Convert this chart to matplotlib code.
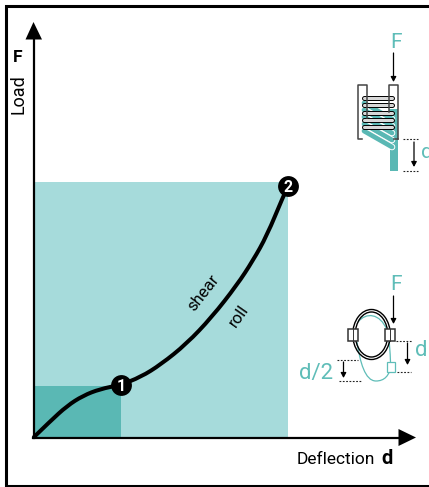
"""Load-deflection curve of a wire rope isolator, with the two spring sketches."""
import matplotlib
matplotlib.use("Agg")
import matplotlib.pyplot as plt
from matplotlib.patches import Rectangle, Ellipse, Polygon, PathPatch
from matplotlib.path import Path

# curve, point 2 = (1, 1)
deflection = [0.0, 0.063, 0.130, 0.193, 0.260, 0.339, 0.420, 0.500, 0.600, 0.700, 0.799, 0.862, 0.917, 0.980, 1.0]
load = [0.0, 0.061, 0.122, 0.162, 0.188, 0.204, 0.235, 0.285, 0.365, 0.470, 0.596, 0.692, 0.790, 0.941, 0.984]
point_d = [0.343, 1.0]
point_f = [0.204, 0.984]
point_labels = ["1", "2"]
elastic_box = (0.343, 0.2)
full_box = (1.0, 1.0)

W, H = 429, 487
LIGHT = "#a6dbdb"
DARK = "#5ab8b4"
TEAL = "#5fbdb8"
NARROW = ["Roboto", "DejaVu Sans"]

fig = plt.figure(figsize=(W / 100, H / 100), dpi=100)

# pixel overlay for the frame and sketches
px = fig.add_axes([0, 0, 1, 1], zorder=3)
px.set_xlim(0, W)
px.set_ylim(H, 0)
px.axis("off")
px.patch.set_alpha(0)

# main chart axes, 254 px = 1 unit in d, 255 px = 1 unit in F
ax = fig.add_axes([34 / W, (H - 437) / H, 381 / W, 413 / H], zorder=2)
ax.set_xlim(0, 381 / 254)
ax.set_ylim(0, 413 / 255)
ax.axis("off")

ax.bar(0, full_box[1], width=full_box[0], align="edge", color=LIGHT, lw=0)
ax.bar(0, elastic_box[1], width=elastic_box[0], align="edge", color=DARK, lw=0)

# smooth the read points with quadratic segments through their midpoints
pts = list(zip(deflection, load))
verts = [pts[0]]
codes = [Path.MOVETO]
for i in range(1, len(pts) - 1):
    next_pt = pts[i + 1] if i == len(pts) - 2 else ((pts[i][0] + pts[i + 1][0]) / 2, (pts[i][1] + pts[i + 1][1]) / 2)
    verts += [pts[i], next_pt]
    codes += [Path.CURVE3, Path.CURVE3]
ax.add_patch(PathPatch(Path(verts, codes), fc="none", ec="black", lw=2.9, capstyle="round", clip_on=False))

ax.scatter(point_d, point_f, s=225, color="black", zorder=5, clip_on=False, lw=0)
for x, y, s in zip(point_d, point_f, point_labels):
    ax.text(x, y, s, color="white", fontsize=11.5, fontweight="bold", ha="center", va="center_baseline",
            family=NARROW, zorder=6)

ax.text(0.665, 0.565, "shear", rotation=52, fontsize=12, ha="center", va="center", family=NARROW)
ax.text(0.805, 0.475, "roll", rotation=55, fontsize=12, ha="center", va="center", family=NARROW)

# frame
px.plot([429, 6, 6, 429], [6, 6, 486, 486], color="black", lw=2.2, solid_joinstyle="miter")

# axis arrows
px.plot([33.5, 33.5], [438, 36], color="black", lw=1.6)
px.plot([33, 402], [437.5, 437.5], color="black", lw=1.6)
px.add_patch(Polygon([(33.5, 22), (25.5, 39.5), (42, 39.5)], color="black", lw=0))
px.add_patch(Polygon([(416, 437.5), (398.5, 429), (398.5, 446)], color="black", lw=0))

px.text(17.5, 57, "F", fontsize=12.5, fontweight="bold", ha="center", va="center", family=NARROW)
px.text(18.5, 94, "Load", rotation=90, fontsize=13, ha="center", va="center", family=NARROW)
px.text(297, 459, "Deflection", fontsize=12.5, ha="left", va="center", family=NARROW)
px.text(387, 459, "d", fontsize=14.5, fontweight="bold", ha="center", va="center", family=NARROW)


def down_arrow(x, y0, y1, lw=0.9):
    px.annotate("", xy=(x, y1), xytext=(x, y0),
                arrowprops=dict(arrowstyle="-|>,head_width=0.16,head_length=0.3", color="black", lw=lw,
                                shrinkA=0, shrinkB=0))


def dotted(x0, x1, y):
    px.plot([x0, x1], [y, y], color="#222222", lw=0.8, dashes=(1.6, 1.4))


# upper sketch: coil spring in shear
px.add_patch(Rectangle((388.7, 109), 9.6, 30, color=DARK, lw=0))
px.add_patch(Rectangle((390, 139), 7.7, 32, color=DARK, lw=0))
for y in [103, 110, 117, 124, 131]:
    px.plot([364, 392], [y, y + 16], color="white", lw=4.8, solid_capstyle="round")
    px.plot([364, 392], [y, y + 16], color=DARK, lw=3.4, solid_capstyle="round")
for y in [98.3, 105.3, 112.7, 119.7, 126.7]:
    px.plot([364, 392], [y, y], color="black", lw=3.6, solid_capstyle="round")
    px.plot([364, 392], [y, y], color="white", lw=2.2, solid_capstyle="round", alpha=0.85)
px.plot([367, 367, 357.5, 357.5, 362], [118, 85, 85, 139, 139], color="#444444", lw=1.1)
px.plot([388.7, 388.7, 398.3, 398.3], [112, 85, 85, 139], color="#444444", lw=1.1)
px.plot([394, 398.3], [139, 139], color="#444444", lw=1.1)
down_arrow(393.5, 53, 82)
dotted(403, 418, 139)
dotted(403, 418, 171)
down_arrow(414, 142, 167)
px.text(396.5, 42, "F", color=TEAL, fontsize=15, ha="center", va="center", family=NARROW)
px.text(427, 152, "d", color=TEAL, fontsize=15, ha="center", va="center", family=NARROW, clip_on=True)

# lower sketch: roll of the wire ring
verts = [(357, 342), (360, 362), (365, 381), (376, 381), (384, 381), (390, 376), (391, 364)]
codes = [Path.MOVETO, Path.CURVE4, Path.CURVE4, Path.CURVE4, Path.CURVE4, Path.CURVE4, Path.CURVE4]
px.add_patch(PathPatch(Path(verts, codes), fc="none", ec=TEAL, lw=0.9))
verts = [(358, 322), (366, 312), (380, 313), (387, 330), (390, 342), (390, 352), (390.5, 362)]
px.add_patch(PathPatch(Path(verts, codes), fc="none", ec=TEAL, lw=0.9))
px.add_patch(Rectangle((386.7, 361.7), 8, 10, fc="white", ec=TEAL, lw=0.9))
px.add_patch(Ellipse((371.5, 334.5), 37.5, 50, fc="none", ec="black", lw=1.0))
px.add_patch(Ellipse((371.5, 334.5), 32.5, 45, fc="none", ec="black", lw=1.0))
px.add_patch(Rectangle((347.5, 328.7), 10.5, 12.5, fc="white", ec="#333333", lw=1.1))
px.add_patch(Rectangle((384.5, 328.7), 10, 12.5, fc="white", ec="#333333", lw=1.1))
px.plot([352.5, 352.5], [328.7, 341.2], color="#333333", lw=0.7)
px.plot([389.5, 389.5], [328.7, 341.2], color="#333333", lw=0.7)
down_arrow(393.5, 296, 324)
dotted(396, 412, 340.5)
dotted(397, 411, 371.5)
down_arrow(407.5, 343, 365)
dotted(337, 358, 359.5)
dotted(339, 362, 380.5)
down_arrow(343.5, 362, 378)
px.text(396.5, 285, "F", color=TEAL, fontsize=15, ha="center", va="center", family=NARROW)
px.text(421, 351, "d", color=TEAL, fontsize=16, ha="center", va="center", family=NARROW)
px.text(316, 373, "d/2", color=TEAL, fontsize=16, ha="center", va="center", family=NARROW)

fig.savefig("out.png", dpi=100)
